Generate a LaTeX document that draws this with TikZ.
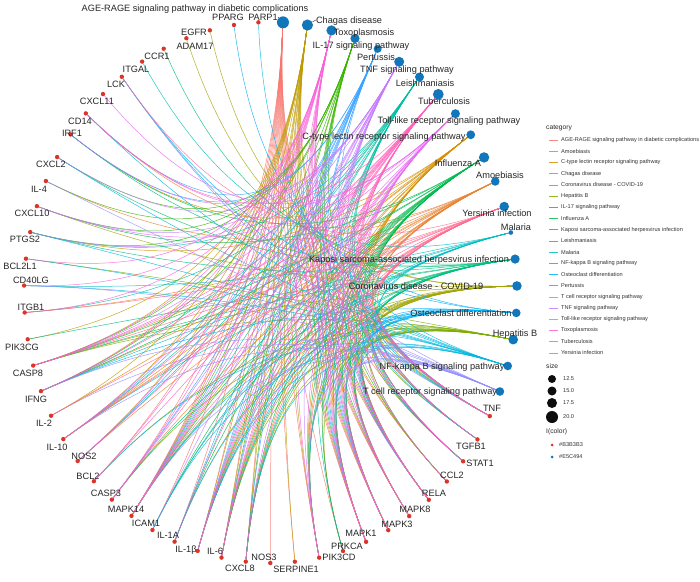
\documentclass[tikz,border=0pt]{standalone}
\usepackage{fontspec}
\setmainfont{Liberation Sans}
\usetikzlibrary{calc}

\definecolor{genered}{RGB}{219,52,40}
\definecolor{pathblue}{RGB}{18,118,186}
% category colours
\definecolor{cAGE}{HTML}{F8766D}
\definecolor{cAmoeb}{HTML}{EA8331}
\definecolor{cCtype}{HTML}{D89000}
\definecolor{cChagas}{HTML}{C09B00}
\definecolor{cCovid}{HTML}{A3A500}
\definecolor{cHepB}{HTML}{7CAE00}
\definecolor{cIL17}{HTML}{39B600}
\definecolor{cInfluenza}{HTML}{00BB4E}
\definecolor{cKaposi}{HTML}{00BF7D}
\definecolor{cLeish}{HTML}{00C1A3}
\definecolor{cMalaria}{HTML}{00BFC4}
\definecolor{cNFkB}{HTML}{00BAE0}
\definecolor{cOsteo}{HTML}{00B0F6}
\definecolor{cPertus}{HTML}{35A2FF}
\definecolor{cTcell}{HTML}{9590FF}
\definecolor{cTNFsig}{HTML}{C77CFF}
\definecolor{cToll}{HTML}{E76BF3}
\definecolor{cToxo}{HTML}{FA62DB}
\definecolor{cTuberc}{HTML}{FF62BC}
\definecolor{cYersinia}{HTML}{FF6C91}

\pgfdeclarelayer{bg}
\pgfdeclarelayer{edges}
\pgfsetlayers{bg,edges,main}

\begin{document}
\begin{tikzpicture}[x=1pt, y=-1pt,
    gene/.style={circle, fill=genered, inner sep=0pt, minimum size=4.4pt},
    pathway/.style={circle, fill=pathblue, inner sep=0pt},
    lab/.style={font=\fontsize{9.2}{10}\selectfont, text=black!85, inner sep=0pt, text height=6.6pt, text depth=0pt},
    edge/.style={line width=0.5pt, draw opacity=0.85},
    legtext/.style={font=\fontsize{5.6}{6}\selectfont, text=black!80, inner sep=0pt, anchor=west},
    legtitle/.style={font=\fontsize{6.7}{7}\selectfont, text=black!85, inner sep=0pt, anchor=west}]

    \begin{pgfonlayer}{bg}
    \path[use as bounding box, fill=white] (0,0) rectangle (700,581);
    \end{pgfonlayer}
    \coordinate (O) at (270.5,292.5);

    % Genes around the circle
    \foreach \nm [count=\k] in {PARP1,PPARG,EGFR,ADAM17,CCR1,ITGAL,LCK,CXCL11,CD14,IRF1,
        CXCL2,IL4,CXCL10,PTGS2,BCL2L1,CD40LG,ITGB1,PIK3CG,CASP8,IFNG,IL2,IL10,NOS2,BCL2,
        CASP3,MAPK14,ICAM1,IL1A,IL1B,IL6,CXCL8,NOS3,SERPINE1,PIK3CD,PRKCA,MAPK1,MAPK3,
        MAPK8,RELA,CCL2,STAT1,TGFB1,TNF}
        \node[gene] (\nm) at ($(O)+({-87.1-\k*5.7143}:246.5 and 270.5)$) {};

    % Pathways (name/position/diameter)
    \foreach \nm/\k/\d in {AGE/0/12, Tcell/44/8.6, NFkB/45/8.6, HepB/46/9.6, Osteo/47/8.6,
        Covid/48/9.6, Kaposi/49/9.2, Malaria/50/4.6, Yersinia/51/9.6, Amoeb/52/8.6,
        Influenza/53/10.4, Ctype/54/8.8, Toll/55/9, Tuberc/56/10.8, Leish/57/9,
        TNFsig/58/10, Pertus/59/8, IL17/60/9.2, Toxo/61/10.2, Chagas/62/11.2}
        \node[pathway, minimum size=\d pt] (\nm) at ($(O)+({-87.1-\k*5.7143}:246.5 and 270.5)$) {};

    % Gene-pathway links
    \begin{pgfonlayer}{edges}
    \foreach \p/\gl in {
        AGE/{BCL2,CASP3,ICAM1,IL1A,IL1B,IL6,CXCL8,NOS3,SERPINE1,PIK3CD,PRKCA,MAPK1,MAPK3,MAPK8,MAPK14,RELA,CCL2,STAT1,TGFB1,TNF},
        Amoeb/{CD14,IFNG,IL10,IL1B,IL6,CXCL8,NOS2,CASP3,ITGB1,PIK3CD,PRKCA,TGFB1,TNF,RELA,IL4},
        Ctype/{PTGS2,IL2,IL10,IL1B,IL6,CASP8,MAPK14,MAPK1,MAPK3,MAPK8,RELA,STAT1,TNF,IRF1,PIK3CD},
        Chagas/{CASP8,IFNG,IL2,IL10,NOS2,IL1B,IL6,CXCL8,SERPINE1,MAPK14,MAPK1,MAPK3,MAPK8,RELA,CCL2,TGFB1,TNF,PIK3CD,PIK3CG},
        Covid/{CXCL10,CCL2,IL1A,IL1B,IL6,CXCL8,TNF,STAT1,RELA,MAPK14,MAPK1,MAPK3,MAPK8,ADAM17,EGFR,CASP8,PIK3CD},
        HepB/{BCL2,CASP3,CASP8,IL6,CXCL8,MAPK1,MAPK3,MAPK8,PRKCA,RELA,STAT1,TGFB1,TNF,PIK3CD,BCL2L1},
        IL17/{CXCL2,CXCL10,PTGS2,CASP8,IFNG,IL4,IL6,CXCL8,CCL2,MAPK14,MAPK1,MAPK3,MAPK8,RELA,TNF},
        Influenza/{CXCL10,CASP8,IFNG,IL1A,IL1B,IL6,CXCL8,CCL2,ICAM1,MAPK14,MAPK1,MAPK3,MAPK8,RELA,STAT1,TNF,PIK3CD,PRKCA,IRF1},
        Kaposi/{ICAM1,IL6,CXCL8,CCR1,CASP3,CASP8,MAPK14,MAPK1,MAPK3,MAPK8,RELA,STAT1,PIK3CD,PIK3CG,PTGS2,IRF1,CXCL2},
        Leish/{IFNG,IL10,NOS2,IL1A,IL1B,PTGS2,ITGB1,MAPK14,MAPK1,MAPK3,RELA,STAT1,TGFB1,TNF,PRKCA},
        Malaria/{ICAM1,IFNG,IL10,IL1B,IL6,CXCL8,TGFB1,TNF,CD40LG,ITGAL},
        NFkB/{PARP1,LCK,CD14,CD40LG,BCL2,BCL2L1,PTGS2,CXCL2,CXCL8,ICAM1,IL1B,TNF,RELA},
        Osteo/{PPARG,IFNG,IL1A,IL1B,MAPK14,MAPK1,MAPK3,MAPK8,RELA,STAT1,TGFB1,TNF,PIK3CD,LCK},
        Pertus/{IRF1,CD14,IL10,NOS2,IL1A,IL1B,IL6,CXCL8,CASP3,MAPK14,MAPK1,MAPK3,TNF},
        Tcell/{LCK,IFNG,IL2,IL4,IL10,MAPK14,MAPK1,MAPK3,RELA,TNF,PIK3CD,CD40LG},
        TNFsig/{CXCL2,CXCL10,PTGS2,CASP8,CASP3,ICAM1,IL1B,IL6,MAPK14,MAPK1,MAPK3,MAPK8,RELA,CCL2,TNF,PIK3CD,IRF1},
        Toll/{CD14,CXCL10,CXCL11,CASP8,IL1B,IL6,CXCL8,MAPK14,MAPK1,MAPK3,MAPK8,RELA,STAT1,TNF,PIK3CD},
        Toxo/{IFNG,IL10,NOS2,BCL2,BCL2L1,CASP3,CASP8,MAPK14,MAPK1,MAPK3,MAPK8,RELA,STAT1,TGFB1,TNF,PIK3CD,CD40LG,ITGB1},
        Tuberc/{CD14,IFNG,IL10,IL1A,IL1B,IL6,NOS2,BCL2,CASP3,CASP8,MAPK14,MAPK1,MAPK3,MAPK8,RELA,STAT1,TGFB1,TNF},
        Yersinia/{ITGB1,CASP8,IL2,IL1B,IL6,CXCL8,MAPK14,MAPK1,MAPK3,MAPK8,RELA,TNF,PIK3CD,IL10,CCL2,LCK}}
        \foreach \g in \gl
            \draw[edge, draw=c\p] (\p) .. controls ($(\p)!0.7!(O)$) and ($(\g)!0.7!(O)$) .. (\g);
    \end{pgfonlayer}

    % Gene labels
    \foreach \nm/\txt/\x/\y in {PARP1/PARP1/263/17, PPARG/PPARG/228/17, EGFR/EGFR/194/32,
        ADAM17/ADAM17/195/46, CCR1/CCR1/157/56, ITGAL/ITGAL/136/69, LCK/LCK/116/84,
        CXCL11/CXCL11/97/101, CD14/CD14/80/121, IRF1/IRF1/72/133, CXCL2/CXCL2/51/164,
        IL4/IL-4/39/189, CXCL10/CXCL10/32/213, PTGS2/PTGS2/25/239, BCL2L1/BCL2L1/20/266,
        CD40LG/CD40LG/31/280, ITGB1/ITGB1/31/307, PIK3CG/PIK3CG/22/347, CASP8/CASP8/28/373,
        IFNG/IFNG/36/399, IL2/IL-2/44/423, IL10/IL-10/57/447, NOS2/NOS2/84/456,
        BCL2/BCL2/88/476, CASP3/CASP3/106/493, MAPK14/MAPK14/126/509, ICAM1/ICAM1/146/523,
        IL1A/IL-1A/168/535, IL1B/IL-1β/186/549, IL6/IL-6/215/551, CXCL8/CXCL8/240/568,
        NOS3/NOS3/264/557, SERPINE1/SERPINE1/296/569, PIK3CD/PIK3CD/339/557,
        PRKCA/PRKCA/347/546, MAPK1/MAPK1/361/533, MAPK3/MAPK3/397/524, MAPK8/MAPK8/415/509,
        RELA/RELA/434/493, CCL2/CCL2/452/475, STAT1/STAT1/480/463, TGFB1/TGFB1/471/446,
        TNF/TNF/492/408}
        \node[lab] (\nm-lab) at (\x,\y) {\txt};

    % Pathway labels
    \foreach \nm/\txt/\x/\y in {AGE/AGE-RAGE signaling pathway in diabetic complications/195/8,
        Chagas/Chagas disease/349/20, Toxo/Toxoplasmosis/364/32, IL17/IL-17 signaling pathway/361/45,
        Pertus/Pertussis/376/57, TNFsig/TNF signaling pathway/407/69, Leish/Leishmaniasis/425/83,
        Tuberc/Tuberculosis/444/101, Toll/Toll-like receptor signaling pathway/449/120,
        Ctype/C-type lectin receptor signaling pathway/384/136, Influenza/Influenza A/458/163,
        Amoeb/Amoebiasis/500/175, Yersinia/Yersinia infection/497/213, Malaria/Malaria/516/227,
        Kaposi/Kaposi sarcoma-associated herpesvirus infection/409/259,
        Covid/Coronavirus disease - COVID-19/416/286, Osteo/Osteoclast differentiation/461/313,
        HepB/Hepatitis B/515/333, NFkB/NF-kappa B signaling pathway/442/366,
        Tcell/T cell receptor signaling pathway/430/391}
        \node[lab] (\nm-lab) at (\x,\y) {\txt};

    % label leaders
    \draw[line width=0.4pt, black!85] (Chagas) -- (Chagas-lab.west);
    \draw[line width=0.4pt, black!85] (PARP1-lab.east) -- (AGE);

    % Legend: category
    \node[legtitle] (cat-title) at (546,128) {category};
    \foreach \c/\txt [count=\i from 0] in {AGE/AGE-RAGE signaling pathway in diabetic complications,
        Amoeb/Amoebiasis, Ctype/C-type lectin receptor signaling pathway, Chagas/Chagas disease,
        Covid/Coronavirus disease - COVID-19, HepB/Hepatitis B, IL17/IL-17 signaling pathway,
        Influenza/Influenza A, Kaposi/Kaposi sarcoma-associated herpesvirus infection,
        Leish/Leishmaniasis, Malaria/Malaria, NFkB/NF-kappa B signaling pathway,
        Osteo/Osteoclast differentiation, Pertus/Pertussis, Tcell/T cell receptor signaling pathway,
        TNFsig/TNF signaling pathway, Toll/Toll-like receptor signaling pathway,
        Toxo/Toxoplasmosis, Tuberc/Tuberculosis, Yersinia/Yersinia infection}
    {
        \draw[draw=c\c, line width=0.6pt, draw opacity=0.85] (549,{140+11.2*\i}) -- (558,{140+11.2*\i});
        \node[legtext] (cat\i) at (561,{140+11.2*\i}) {\txt};
    }

    % Legend: size
    \node[legtitle] (size-title) at (546,366) {size};
    \foreach \v/\r/\y in {12.5/4/379, 15.0/4.5/391, 17.5/5/403, 20.0/6/417}
    {
        \fill[black!95] (552,\y) circle (\r);
        \node[legtext] (size\v) at (563,\y) {\v};
    }

    % Legend: colour
    \node[legtitle] (col-title) at (546,432) {I(color)};
    \fill[genered] (552,445) circle (1.5);
    \node[legtext] (col1) at (559,445) {\#B3B3B3};
    \fill[pathblue] (552,457) circle (1.5);
    \node[legtext] (col2) at (559,457) {\#E5C494};
\end{tikzpicture}
\end{document}
